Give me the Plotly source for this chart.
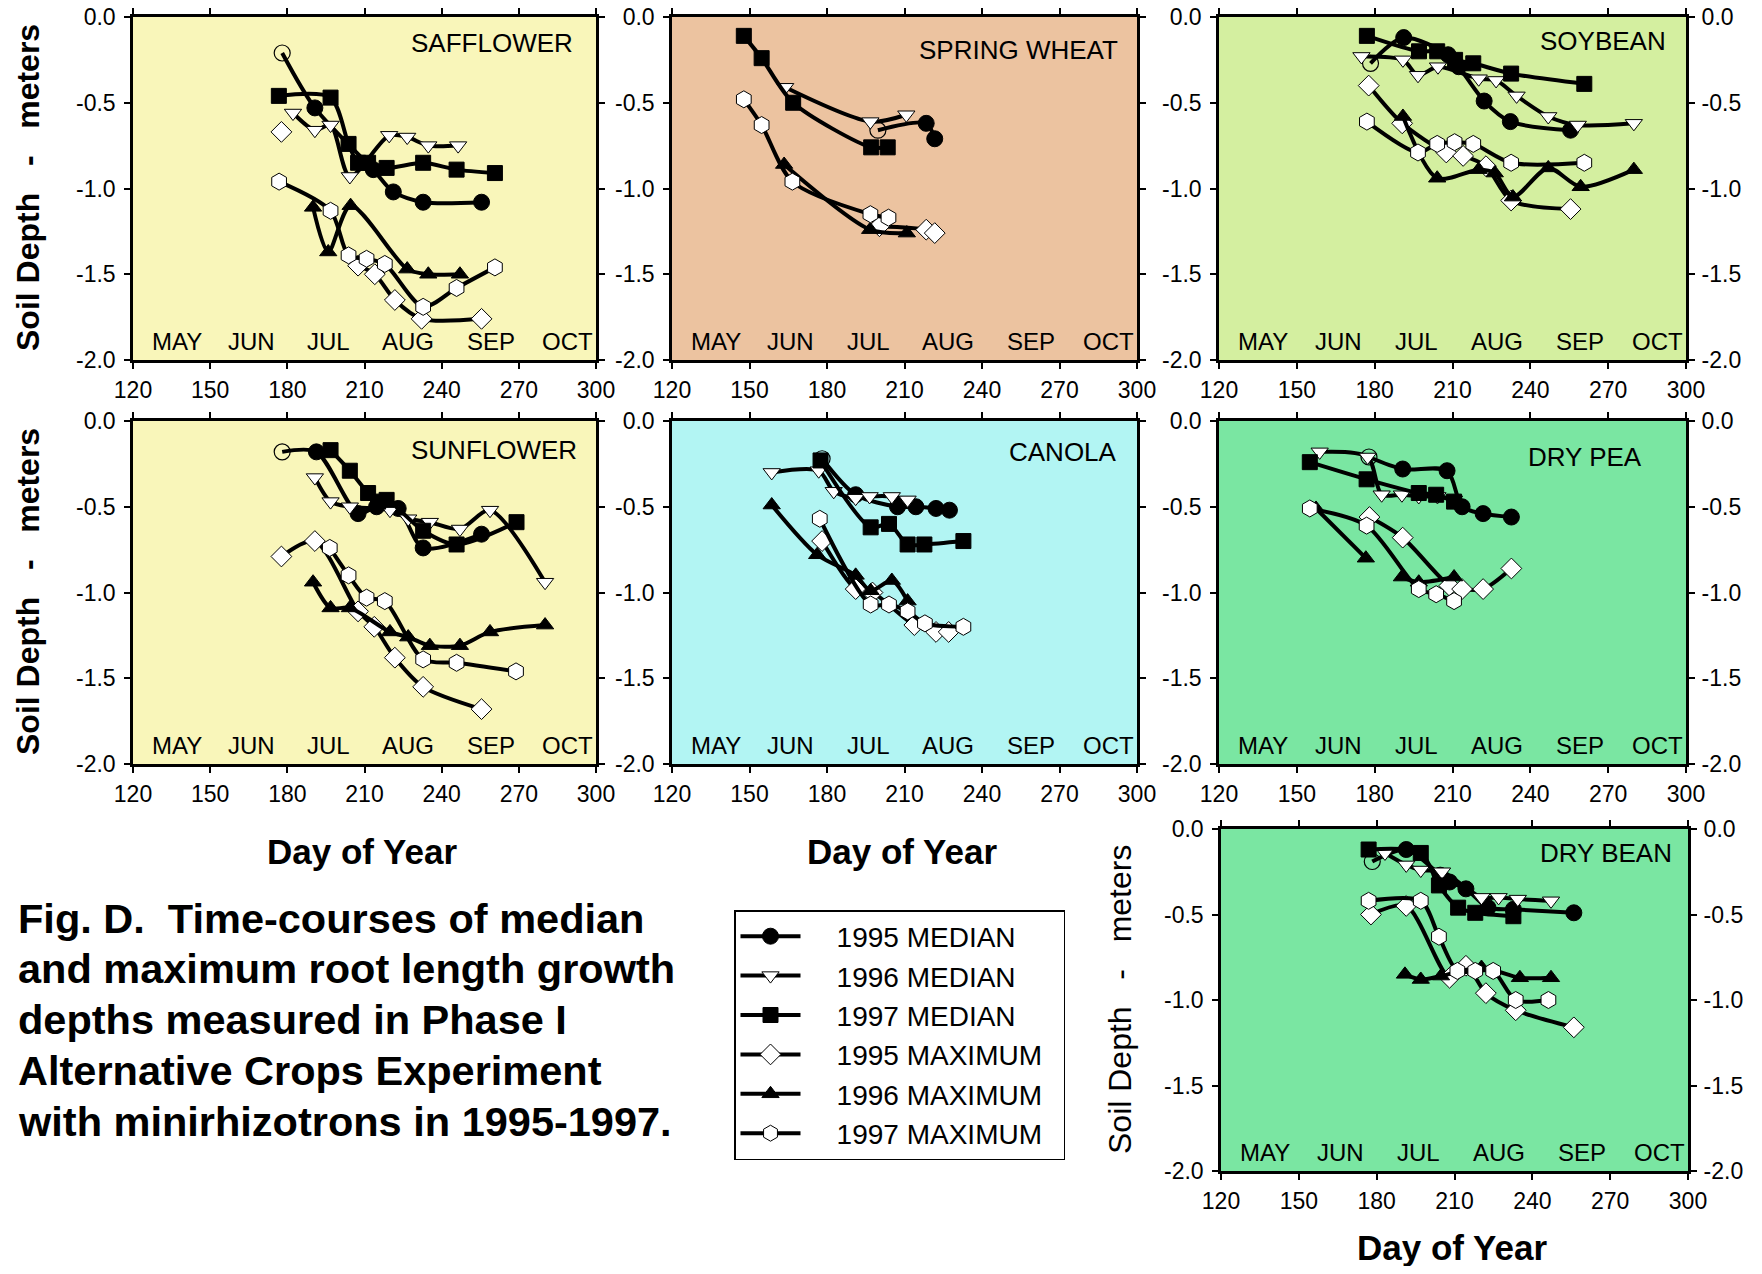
import plotly.graph_objects as go

FONT = "Liberation Sans, Arial, sans-serif"
W, H = 1762, 1274          # target picture size
OFF = 8                    # page body margin of the html page
FW, FH = W - 2 * OFF, H - 2 * OFF

SERIES_NAMES = ["1995 MEDIAN", "1996 MEDIAN", "1997 MEDIAN",
                "1995 MAXIMUM", "1996 MAXIMUM", "1997 MAXIMUM"]
MONTHS = ["MAY", "JUN", "JUL", "AUG", "SEP", "OCT"]
MONTH_DOY = [137, 166, 196, 227, 259, 289]
X_TICKS = [120, 150, 180, 210, 240, 270, 300]
Y_TICKS = [0.0, -0.5, -1.0, -1.5, -2.0]
Y_TICKTEXT = ["0.0", "-0.5", "-1.0", "-1.5", "-2.0"]
CAPTION_LINES = ["Fig. D.  Time-courses of median",
                 "and maximum root length growth",
                 "depths measured in Phase I",
                 "Alternative Crops Experiment",
                 "with minirhizotrons in 1995-1997."]

# ---- data: (day of year, soil depth m); None = gap ----
SAFFLOWER_MED95 = [(178, -0.21), (190.7, -0.53), (213.4, -0.89), (221.2, -1.02), (232.8, -1.08), (255.5, -1.08)]
SAFFLOWER_MED96 = [(182.2, -0.56), (190.7, -0.66), (196.8, -0.63), (204.3, -0.93), (219.6, -0.69), (226.6, -0.70), (234.8, -0.75), (246.4, -0.75)]
SAFFLOWER_MED97 = [(176.7, -0.46), (196.8, -0.47), (203.8, -0.74), (207.5, -0.85), (211.4, -0.85), (218.6, -0.88), (232.8, -0.85), (245.8, -0.89), (260.7, -0.91)]
SAFFLOWER_MAX95 = [(177.7, -0.67), None, (207.5, -1.45), (214.0, -1.50), (221.8, -1.65), (232.2, -1.76), (255.5, -1.76)]
SAFFLOWER_MAX96 = [(190.0, -1.11), (195.9, -1.37), (204.6, -1.10), (226.6, -1.47), (234.8, -1.50), (247.1, -1.50)]
SAFFLOWER_MAX97 = [(176.8, -0.96), (196.8, -1.13), (203.8, -1.39), (210.8, -1.41), (217.9, -1.44), (232.8, -1.69), (245.8, -1.58), (260.7, -1.46)]

WHEAT_MED95 = [(199.7, -0.66), (218.4, -0.62), (221.7, -0.71)]
WHEAT_MED96 = [(163.8, -0.41), (196.8, -0.61), (210.7, -0.57)]
WHEAT_MED97 = [(147.8, -0.11), (154.7, -0.24), (166.9, -0.50), (197.1, -0.76), (203.5, -0.76)]
WHEAT_MAX95 = [(200.3, -1.22), (218.4, -1.24), (221.7, -1.26)]
WHEAT_MAX96 = [(163.4, -0.86), (196.7, -1.24), (210.9, -1.26)]
WHEAT_MAX97 = [(147.8, -0.48), (154.7, -0.63), (166.6, -0.96), (196.8, -1.15), (203.8, -1.17)]

SOYBEAN_MED95 = [(178.4, -0.27), (191.2, -0.12), (208.3, -0.22), (212.4, -0.29), (222.2, -0.49), (232.3, -0.61), (255.5, -0.66)]
SOYBEAN_MED96 = [(174.9, -0.23), (190.9, -0.25), (196.7, -0.34), (204.4, -0.29), (220.1, -0.36), (226.8, -0.37), (234.7, -0.46), (246.9, -0.58), (258.3, -0.63), (279.9, -0.62)]
SOYBEAN_MED97 = [(177.0, -0.11), (197.1, -0.20), (204.1, -0.20), (211.0, -0.25), (218.0, -0.27), (232.6, -0.33), (260.8, -0.39)]
SOYBEAN_MAX95 = [(177.7, -0.40), (190.6, -0.62), (207.6, -0.79), (214.1, -0.81), (222.9, -0.87), (232.6, -1.07), (255.5, -1.12)]
SOYBEAN_MAX96 = [(190.9, -0.58), (204.1, -0.94), (220.1, -0.89), (226.3, -0.91), (233.3, -1.05), (246.9, -0.88), (259.4, -0.99), (279.9, -0.89)]
SOYBEAN_MAX97 = [(177.0, -0.61), (196.7, -0.79), (204.1, -0.74), (210.8, -0.73), (218.0, -0.74), (232.6, -0.85), (260.8, -0.85)]

SUNFLOWER_MED95 = [(178.0, -0.18), (191.3, -0.18), (207.5, -0.54), (214.7, -0.50), (223.1, -0.51), (232.8, -0.74), (255.5, -0.66)]
SUNFLOWER_MED96 = [(190.7, -0.33), (196.8, -0.47), (204.3, -0.50), (219.9, -0.52), (227.0, -0.57), (235.4, -0.59), (247.1, -0.63), (258.8, -0.52), (280.2, -0.94)]
SUNFLOWER_MED97 = [(196.8, -0.17), (204.3, -0.29), (211.4, -0.42), (215.3, -0.47), (218.6, -0.46), (232.8, -0.64), (245.8, -0.72), (269.1, -0.59)]
SUNFLOWER_MAX95 = [(177.7, -0.79), (190.7, -0.70), (207.5, -1.11), (213.8, -1.20), (221.8, -1.38), (232.8, -1.55), (255.5, -1.68)]
SUNFLOWER_MAX96 = [(190.0, -0.94), (196.8, -1.09), (204.3, -1.09), (219.9, -1.23), (227.0, -1.26), (235.4, -1.31), (247.1, -1.31), (258.8, -1.23), (280.2, -1.19)]
SUNFLOWER_MAX97 = [(196.5, -0.74), (203.8, -0.90), (210.8, -1.03), (217.9, -1.05), (232.8, -1.39), (245.8, -1.41), (268.9, -1.46)]

CANOLA_MED95 = [(178.1, -0.22), (191.1, -0.43), (207.3, -0.50), (214.4, -0.50), (222.2, -0.51), (227.4, -0.52)]
CANOLA_MED96 = [(158.6, -0.30), (176.8, -0.29), (182.6, -0.41), (191.1, -0.45), (196.5, -0.44), (205.1, -0.44), (211.2, -0.46)]
CANOLA_MED97 = [(177.5, -0.23), (196.9, -0.62), (204.0, -0.60), (211.2, -0.72), (217.7, -0.72), (232.8, -0.70)]
CANOLA_MAX95 = [(178.1, -0.70), (191.1, -0.98), (197.6, -1.00), (213.8, -1.19), (222.2, -1.23), (227.1, -1.23)]
CANOLA_MAX96 = [(158.6, -0.49), (176.2, -0.78), (191.1, -0.90), (196.9, -0.99), (205.1, -0.93), (211.2, -1.05)]
CANOLA_MAX97 = [(177.2, -0.57), (196.9, -1.07), (204.0, -1.07), (211.2, -1.11), (217.9, -1.18), (232.8, -1.20)]

PEA_MED95 = [(177.8, -0.21), (190.8, -0.28), (207.9, -0.29), (213.7, -0.50), (221.8, -0.54), (232.7, -0.56)]
PEA_MED96 = [(158.8, -0.18), (177.3, -0.21), (182.7, -0.43), (190.5, -0.43), (197.0, -0.44), (204.2, -0.44), (210.6, -0.46)]
PEA_MED97 = [(155.0, -0.24), (176.9, -0.34), (197.0, -0.42), (203.7, -0.43), (210.6, -0.47)]
PEA_MAX95 = [(178.0, -0.56), (190.8, -0.68), (208.8, -0.96), (213.7, -0.98), (221.8, -0.98), (232.7, -0.86)]
PEA_MAX96 = [(157.4, -0.51), (176.6, -0.80), None, (190.5, -0.91), (197.0, -0.94), (210.6, -0.91)]
PEA_MAX97 = [(155.0, -0.51), (176.9, -0.61), (197.0, -0.98), (203.7, -1.01), (210.6, -1.05)]

BEAN_MED95 = [(178.3, -0.19), (191.4, -0.12), (204.5, -0.27), (208.1, -0.31), (214.4, -0.35), (222.9, -0.46), (232.7, -0.47), (256.0, -0.49)]
BEAN_MED96 = [(183.2, -0.14), (191.4, -0.21), (197.0, -0.24), (205.2, -0.25), (220.4, -0.40), (227.0, -0.40), (234.4, -0.41), (247.2, -0.42)]
BEAN_MED97 = [(176.9, -0.12), (197.0, -0.14), (204.0, -0.33), (211.4, -0.46), (218.0, -0.49), (232.7, -0.51)]
BEAN_MAX95 = [(177.8, -0.50), (191.4, -0.45), (208.1, -0.87), (214.4, -0.80), (222.1, -0.96), (233.6, -1.06), (256.0, -1.16)]
BEAN_MAX96 = [(190.9, -0.85), (197.0, -0.88), (204.8, -0.86), (220.4, -0.81), (235.2, -0.87), (247.2, -0.87)]
BEAN_MAX97 = [(176.9, -0.42), (197.0, -0.42), (204.0, -0.63), (211.1, -0.83), (218.0, -0.83), (224.9, -0.83), (233.6, -1.00), (246.2, -1.00)]

# ---- panel configuration (boxes in picture pixels: left, right, top, bottom) ----
PANELS = [
    dict(label="SAFFLOWER", box=(133, 596, 17, 360), bg="#F9F6BA", right=False, lab=(292, -0.15),
         data=[SAFFLOWER_MED95, SAFFLOWER_MED96, SAFFLOWER_MED97, SAFFLOWER_MAX95, SAFFLOWER_MAX96, SAFFLOWER_MAX97]),
    dict(label="SPRING WHEAT", box=(672, 1137, 17, 360), bg="#ECC3A0", right=False, lab=(293.5, -0.19),
         data=[WHEAT_MED95, WHEAT_MED96, WHEAT_MED97, WHEAT_MAX95, WHEAT_MAX96, WHEAT_MAX97]),
    dict(label="SOYBEAN", box=(1219, 1686, 17, 360), bg="#D4EFA0", right=True, lab=(293, -0.14),
         data=[SOYBEAN_MED95, SOYBEAN_MED96, SOYBEAN_MED97, SOYBEAN_MAX95, SOYBEAN_MAX96, SOYBEAN_MAX97]),
    dict(label="SUNFLOWER", box=(133, 596, 421, 764), bg="#F9F6BA", right=False, lab=(293.5, -0.17),
         data=[SUNFLOWER_MED95, SUNFLOWER_MED96, SUNFLOWER_MED97, SUNFLOWER_MAX95, SUNFLOWER_MAX96, SUNFLOWER_MAX97]),
    dict(label="CANOLA", box=(672, 1137, 421, 764), bg="#B2F5F3", right=False, lab=(293, -0.18),
         data=[CANOLA_MED95, CANOLA_MED96, CANOLA_MED97, CANOLA_MAX95, CANOLA_MAX96, CANOLA_MAX97]),
    dict(label="DRY PEA", box=(1219, 1686, 421, 764), bg="#7AE6A2", right=True, lab=(284, -0.21),
         data=[PEA_MED95, PEA_MED96, PEA_MED97, PEA_MAX95, PEA_MAX96, PEA_MAX97]),
    dict(label="DRY BEAN", box=(1221, 1688, 829, 1171), bg="#7AE6A2", right=True, lab=(294.5, -0.14),
         data=[BEAN_MED95, BEAN_MED96, BEAN_MED97, BEAN_MAX95, BEAN_MAX96, BEAN_MAX97]),
]

STYLES = [
    dict(symbol="circle", fill="black", size=16),
    dict(symbol="triangle-down", fill="white", size=15),
    dict(symbol="square", fill="black", size=15),
    dict(symbol="diamond", fill="white", size=16),
    dict(symbol="triangle-up", fill="black", size=15),
    dict(symbol="hexagon", fill="white", size=17),
]
LINE_W = 4


def px_x(px):
    return (px - OFF) / FW


def px_y(py):
    return 1 - (py - OFF) / FH


def xy(pts):
    xs = [p[0] if p is not None else None for p in pts]
    ys = [p[1] if p is not None else None for p in pts]
    return xs, ys


fig = go.Figure()
layout = dict(width=FW, height=FH, margin=dict(l=0, r=0, t=0, b=0, autoexpand=False),
              paper_bgcolor="white", plot_bgcolor="rgba(0,0,0,0)",
              font=dict(family=FONT, color="black"), shapes=[], annotations=[])

TICKFONT = dict(size=23, family=FONT, color="black")
right_id = len(PANELS)
for i, p in enumerate(PANELS, start=1):
    xname = "x" if i == 1 else f"x{i}"
    yname = "y" if i == 1 else f"y{i}"
    xkey = "xaxis" if i == 1 else f"xaxis{i}"
    ykey = "yaxis" if i == 1 else f"yaxis{i}"
    x0, x1, y0, y1 = p["box"]
    layout[xkey] = dict(domain=[px_x(x0), px_x(x1)], range=[120, 300], tickvals=X_TICKS,
                        ticks="outside", ticklen=6, tickwidth=2, tickcolor="black",
                        showline=True, linecolor="black", linewidth=2.5, mirror="ticks",
                        showgrid=False, zeroline=False, anchor=yname, automargin=False,
                        tickfont=TICKFONT, ticklabelstandoff=2, ticklabeloverflow="allow")
    layout[ykey] = dict(domain=[px_y(y1), px_y(y0)], range=[-2, 0], tickvals=Y_TICKS,
                        ticktext=Y_TICKTEXT, ticks="outside", ticklen=6, tickwidth=2,
                        tickcolor="black", showline=True, linecolor="black", linewidth=2.5,
                        mirror="ticks", showgrid=False, zeroline=False, anchor=xname,
                        automargin=False, tickfont=TICKFONT, ticklabelstandoff=4,
                        ticklabeloverflow="allow")
    if p["right"]:
        right_id += 1
        layout[f"yaxis{right_id}"] = dict(
            overlaying=yname, side="right", anchor=xname, range=[-2, 0],
            tickvals=Y_TICKS, ticktext=Y_TICKTEXT, ticks="outside", ticklen=6,
            tickwidth=2, tickcolor="black", showline=False, showgrid=False,
            zeroline=False, automargin=False, tickfont=TICKFONT, ticklabelstandoff=4,
            ticklabeloverflow="allow")
        fig.add_trace(go.Scatter(x=[None], y=[None], xaxis=xname, yaxis=f"y{right_id}",
                                 showlegend=False, hoverinfo="skip", mode="markers"))
    # background
    layout["shapes"].append(dict(type="rect", xref=f"{xname} domain", yref=f"{yname} domain",
                                 x0=0, x1=1, y0=0, y1=1, fillcolor=p["bg"], line=dict(width=0),
                                 layer="below"))
    # series
    for s, (pts, st) in enumerate(zip(p["data"], STYLES)):
        xs, ys = xy(pts)
        n = len(xs)
        if s == 0:
            symbols = ["circle-open"] + [st["symbol"]] * (n - 1)
            lw = [1.2] + [1] * (n - 1)
            colors = ["black"] * n
        else:
            symbols = st["symbol"]
            lw = 1
            colors = st["fill"]
        fig.add_trace(go.Scatter(
            x=xs, y=ys, xaxis=xname, yaxis=yname, mode="lines+markers",
            line=dict(color="black", width=LINE_W, shape="spline", smoothing=0.8),
            marker=dict(symbol=symbols, size=st["size"], color=colors,
                        line=dict(color="black", width=lw)),
            connectgaps=False, showlegend=False, hoverinfo="skip"))
    # month labels
    for m, d in zip(MONTHS, MONTH_DOY):
        layout["annotations"].append(dict(text=m, x=d, y=-1.89, xref=xname, yref=yname,
                                          xanchor="center", yanchor="middle",
                                          showarrow=False, font=dict(size=24, family=FONT)))
    # crop label
    layout["annotations"].append(dict(text=p["label"], x=p["lab"][0], y=p["lab"][1],
                                      xref=xname, yref=yname, xanchor="right", yanchor="middle",
                                      showarrow=False, font=dict(size=26, family=FONT)))

# legend entries
NBSP = "\u00a0"
for name, st in zip(SERIES_NAMES, STYLES):
    fig.add_trace(go.Scatter(
        x=[None], y=[None], xaxis="x", yaxis="y", mode="lines+markers",
        name=NBSP * 4 + name + NBSP * 2,
        line=dict(color="black", width=LINE_W),
        marker=dict(symbol=st["symbol"], size=st["size"], color=st["fill"],
                    line=dict(color="black", width=1))))

layout["legend"] = dict(x=px_x(734), y=px_y(910), xanchor="left", yanchor="top",
                        bgcolor="white", bordercolor="black", borderwidth=1.5,
                        font=dict(size=28, family=FONT, color="black"),
                        itemwidth=60, tracegroupgap=0, traceorder="normal")
layout["showlegend"] = True

# titles
ann = layout["annotations"]
ytitle = "Soil Depth   -   meters"
for cy in (188, 592):
    ann.append(dict(text=f"<b>{ytitle}</b>", x=px_x(28), y=px_y(cy), xref="paper", yref="paper",
                    xanchor="center", yanchor="middle",
                    textangle=-90, showarrow=False, font=dict(size=32, family=FONT)))
ann.append(dict(text=ytitle, x=px_x(1120), y=px_y(1000), xref="paper", yref="paper",
                xanchor="center", yanchor="middle",
                textangle=-90, showarrow=False, font=dict(size=32, family=FONT)))
for cx, cy in [(362, 851), (902, 851), (1452, 1247)]:
    ann.append(dict(text="<b>Day of Year</b>", x=px_x(cx), y=px_y(cy), xref="paper",
                    yref="paper", xanchor="center", yanchor="middle",
                    showarrow=False, font=dict(size=35, family=FONT)))

# caption, one annotation per line
for k, line in enumerate(CAPTION_LINES):
    ann.append(dict(text=f"<b>{line}</b>", x=px_x(16), y=px_y(918 + 50.8 * k),
                    xref="paper", yref="paper", xanchor="left", yanchor="middle",
                    align="left", showarrow=False, font=dict(size=41.5, family=FONT)))

fig.update_layout(**layout)
fig.write_html("out.html")
